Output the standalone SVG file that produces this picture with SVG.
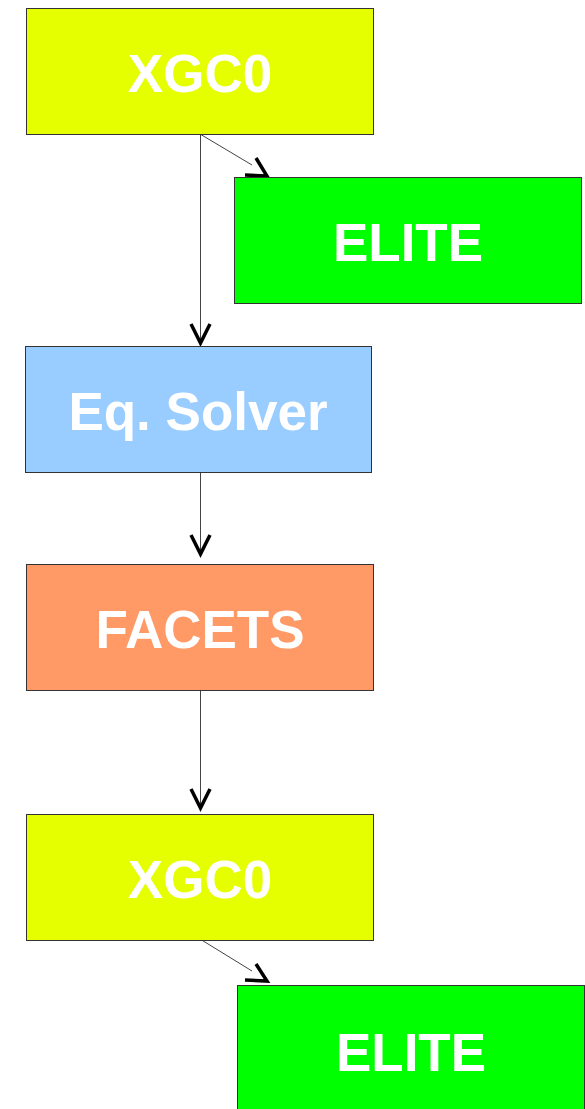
<svg xmlns="http://www.w3.org/2000/svg" width="585" height="1109" viewBox="0 0 585 1109">
<style>
.box{stroke:#333;stroke-width:1}
.lbl{font-family:"Liberation Sans",Arial,sans-serif;font-weight:bold;font-size:53px;fill:#fff;text-anchor:middle}
.ln{stroke:#444;stroke-width:1;fill:none}
.ah{stroke:#000;stroke-width:3.5;fill:none;stroke-linecap:butt;stroke-linejoin:miter}
</style>
<rect width="585" height="1109" fill="#fff"/>
<g id="connectors">
<line class="ln" x1="200.5" y1="134" x2="200.5" y2="342"/>
<polyline class="ah" points="191,324 200.5,343 210,324"/>
<line class="ln" x1="200" y1="134" x2="252" y2="165"/>
<polyline class="ah" points="256,158 267,176 245,175"/>
<line class="ln" x1="200.5" y1="472" x2="200.5" y2="553"/>
<polyline class="ah" points="191,535 200.5,554 210,535"/>
<line class="ln" x1="200.5" y1="685" x2="200.5" y2="806"/>
<polyline class="ah" points="191,789 200.5,808 210,789"/>
<line class="ln" x1="200" y1="939" x2="252" y2="971"/>
<polyline class="ah" points="256,964 267,981 245,980"/>
</g>
<g id="n1"><rect class="box" x="26.5" y="8.5" width="347" height="126" fill="#e6ff00"/><text class="lbl" x="200" y="92">XGC0</text></g>
<g id="n2"><rect class="box" x="234.5" y="177.5" width="347" height="126" fill="#00ff00"/><text class="lbl" x="408" y="261">ELITE</text></g>
<g id="n3"><rect class="box" x="25.5" y="346.5" width="346" height="126" fill="#99ccff"/><text class="lbl" x="198" y="430">Eq. Solver</text></g>
<g id="n4"><rect class="box" x="26.5" y="564.5" width="347" height="126" fill="#ff9966"/><text class="lbl" x="200" y="648">FACETS</text></g>
<g id="n5"><rect class="box" x="26.5" y="814.5" width="347" height="126" fill="#e6ff00"/><text class="lbl" x="200" y="898">XGC0</text></g>
<g id="n6"><rect class="box" x="237.5" y="985.5" width="347" height="130" fill="#00ff00"/><text class="lbl" x="411" y="1071">ELITE</text></g>
</svg>
